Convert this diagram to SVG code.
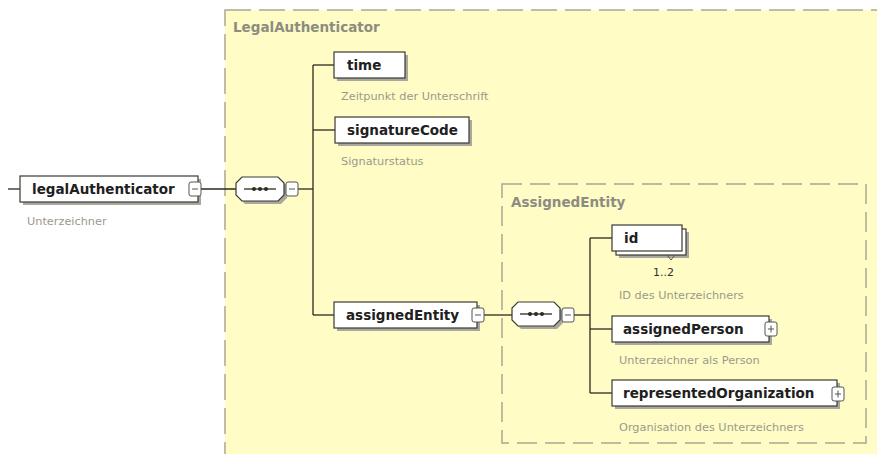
<svg xmlns="http://www.w3.org/2000/svg" width="877" height="454" viewBox="0 0 877 454">
  <defs>
    <style>
      .bg { fill: #fffcc6; stroke: #aaa890; stroke-width: 1.5; }
      .outer { stroke-dasharray: 26 8; }
      .inner { stroke-dasharray: 20 8; }
      .title { font-family: "DejaVu Sans", sans-serif; font-size: 13.5px; font-weight: bold; fill: #8c8c80; }
      .box { fill: #ffffff; stroke: #3a3a30; stroke-width: 1.2; }
      .shadow { fill: #a8a8a0; }
      .name { font-family: "DejaVu Sans", sans-serif; font-size: 13.5px; font-weight: bold; fill: #202020; }
      .desc { font-family: "DejaVu Sans", sans-serif; font-size: 11.3px; fill: #9a9a8a; }
      .mult { font-family: "DejaVu Sans", sans-serif; font-size: 11px; fill: #303030; }
      .btn { fill: #ffffff; stroke: #555550; stroke-width: 1; }
      .sign { stroke: #555550; stroke-width: 1; fill: none; }
      .wire { stroke: #2a2a20; stroke-width: 1.3; fill: none; }
    </style>
  </defs>

  <!-- complex type frames -->
  <rect class="bg outer" x="225" y="10" width="670" height="460"/>
  <text class="title" x="233" y="32">LegalAuthenticator</text>
  <rect class="bg inner" x="502" y="184" width="364" height="259"/>
  <text class="title" x="511" y="207">AssignedEntity</text>

  <!-- connectors -->
  <g id="connectors">
    <path class="wire" d="M8,189 H20"/>
    <path class="wire" d="M200,189 H236"/>
    <path class="wire" d="M298,189 H313"/>
    <path class="wire" d="M313,65 V315"/>
    <path class="wire" d="M313,65 H334"/>
    <path class="wire" d="M313,130 H335"/>
    <path class="wire" d="M313,315 H334"/>
    <path class="wire" d="M484,315 H512"/>
    <path class="wire" d="M574,315 H590"/>
    <path class="wire" d="M590,238 V393"/>
    <path class="wire" d="M590,238 H612"/>
    <path class="wire" d="M590,329 H612"/>
    <path class="wire" d="M590,393 H612"/>
  </g>

  <!-- root element -->
  <g id="legalAuthenticator">
    <rect class="shadow" x="23" y="179" width="178" height="26"/>
    <rect class="box" x="20" y="176" width="178" height="26"/>
    <text class="name" x="32" y="194">legalAuthenticator</text>
    <rect class="btn" x="189" y="182" width="12" height="14" rx="2"/>
    <path class="sign" d="M192,189 H198"/>
    <text class="desc" x="27" y="225">Unterzeichner</text>
  </g>

  <!-- sequence of LegalAuthenticator -->
  <g id="sequence1">
    <path class="shadow" d="M245,180 H281 L287,186 V198 L281,204 H245 L239,198 V186 Z"/>
    <path class="box" d="M242,177 H278 L284,183 V195 L278,201 H242 L236,195 V183 Z"/>
    <path class="wire" d="M244,189 H276"/>
    <circle cx="254" cy="189" r="2" fill="#2a2a20"/>
    <circle cx="260" cy="189" r="2" fill="#2a2a20"/>
    <circle cx="266" cy="189" r="2" fill="#2a2a20"/>
    <rect class="btn" x="286" y="182" width="12" height="14" rx="2"/>
    <path class="sign" d="M289,189 H295"/>
  </g>

  <g id="time">
    <rect class="shadow" x="337" y="55" width="71" height="26"/>
    <rect class="box" x="334" y="52" width="71" height="26"/>
    <text class="name" x="347" y="70">time</text>
    <text class="desc" x="341" y="100">Zeitpunkt der Unterschrift</text>
  </g>

  <g id="signatureCode">
    <rect class="shadow" x="338" y="120" width="134" height="26"/>
    <rect class="box" x="335" y="117" width="134" height="26"/>
    <text class="name" x="347" y="135">signatureCode</text>
    <text class="desc" x="341" y="165">Signaturstatus</text>
  </g>

  <g id="assignedEntity">
    <rect class="shadow" x="337" y="305" width="143" height="26"/>
    <rect class="box" x="334" y="302" width="143" height="26"/>
    <text class="name" x="346" y="320">assignedEntity</text>
    <rect class="btn" x="472" y="308" width="12" height="14" rx="2"/>
    <path class="sign" d="M475,315 H481"/>
  </g>

  <!-- sequence of AssignedEntity -->
  <g id="sequence2">
    <path class="shadow" d="M521,305 H557 L563,311 V323 L557,329 H521 L515,323 V311 Z"/>
    <path class="box" d="M518,302 H554 L560,308 V320 L554,326 H518 L512,320 V308 Z"/>
    <path class="wire" d="M520,314 H552"/>
    <circle cx="530" cy="314" r="2" fill="#2a2a20"/>
    <circle cx="536" cy="314" r="2" fill="#2a2a20"/>
    <circle cx="542" cy="314" r="2" fill="#2a2a20"/>
    <rect class="btn" x="562" y="308" width="12" height="14" rx="2"/>
    <path class="sign" d="M565,315 H571"/>
  </g>

  <g id="id">
    <rect class="shadow" x="619" y="232" width="70" height="26"/>
    <rect class="box" x="616" y="229" width="70" height="26"/>
    <rect class="box" x="612" y="225" width="70" height="26"/>
    <text class="name" x="624" y="243">id</text>
    <path class="sign" d="M667,255 L671,260 L675,255"/>
    <text class="mult" x="653" y="276">1..2</text>
    <text class="desc" x="619" y="299">ID des Unterzeichners</text>
  </g>

  <g id="assignedPerson">
    <rect class="shadow" x="615" y="319" width="157" height="26"/>
    <rect class="box" x="612" y="316" width="157" height="26"/>
    <text class="name" x="623" y="334">assignedPerson</text>
    <rect class="btn" x="765" y="322" width="12" height="14" rx="2"/>
    <path class="sign" d="M768,329 H774 M771,325.5 V332.5"/>
    <text class="desc" x="619" y="364">Unterzeichner als Person</text>
  </g>

  <g id="representedOrganization">
    <rect class="shadow" x="615" y="383" width="225" height="26"/>
    <rect class="box" x="612" y="380" width="225" height="26"/>
    <text class="name" x="623" y="398">representedOrganization</text>
    <rect class="btn" x="832" y="387" width="12" height="14" rx="2"/>
    <path class="sign" d="M835,394 H841 M838,390.5 V397.5"/>
    <text class="desc" x="619" y="431">Organisation des Unterzeichners</text>
  </g>
</svg>
